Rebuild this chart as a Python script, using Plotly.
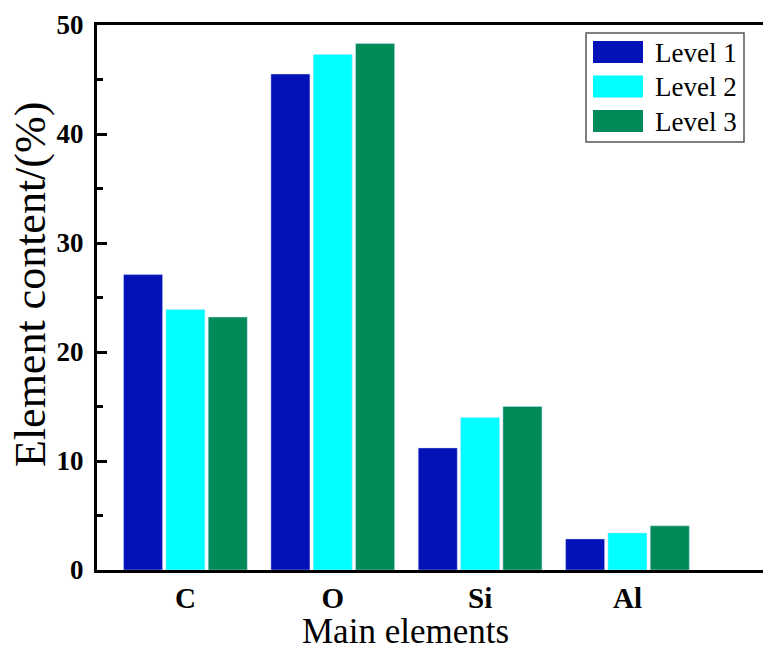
import plotly.graph_objects as go

categories = ["C", "O", "Si", "Al"]
series_names = ["Level 1", "Level 2", "Level 3"]
level1 = [27.1, 45.5, 11.2, 2.85]
level2 = [23.9, 47.3, 14.0, 3.4]
level3 = [23.2, 48.3, 15.0, 4.05]
y_ticks = [0, 10, 20, 30, 40, 50]
colors = ["#0212B6", "#00FFFF", "#008A58"]
x_title = "Main elements"
y_title = "Element content/(%)"

FONT = "Liberation Serif"
W, H = 763, 652
L, R, T, B = 97, 0, 25, 82

fig = go.Figure()
for name, vals, col in zip(series_names, [level1, level2, level3], colors):
    fig.add_trace(go.Bar(
        x=categories, y=vals, name=name,
        marker=dict(color=col, line=dict(color="rgba(200,220,255,0.6)", width=0.8)),
        showlegend=False,
    ))

pw = W - L - R
ph = H - T - B
def px_x(p):
    return (p - L) / pw
def px_y(p):
    return (H - B - p) / ph

shapes = []
annotations = []
shapes.append(dict(type="rect", xref="paper", yref="paper",
                   x0=px_x(586), x1=px_x(744), y0=px_y(142), y1=px_y(33),
                   line=dict(color="#555555", width=1.5), fillcolor="white", layer="above"))
row_centers = [52, 86.5, 121]
for name, col, yc in zip(series_names, colors, row_centers):
    shapes.append(dict(type="rect", xref="paper", yref="paper",
                       x0=px_x(593), x1=px_x(643), y0=px_y(yc + 11), y1=px_y(yc - 11),
                       line=dict(color=col, width=0), fillcolor=col, layer="above"))
    annotations.append(dict(xref="paper", yref="paper", x=px_x(653), y=px_y(yc + 1),
                            xanchor="left", yanchor="middle", text=name, showarrow=False,
                            font=dict(family=FONT, size=27, color="black")))

annotations.append(dict(xref="paper", yref="paper", x=px_x(405), y=px_y(631),
                        xanchor="center", yanchor="middle", text=x_title, showarrow=False,
                        font=dict(family=FONT, size=35, color="black")))
annotations.append(dict(xref="paper", yref="paper", x=px_x(30), y=px_y(285),
                        xanchor="center", yanchor="middle", text=y_title, showarrow=False,
                        textangle=-90, font=dict(family=FONT, size=44, color="black")))

fig.update_layout(
    width=W, height=H,
    margin=dict(l=L, r=R, t=T, b=B),
    paper_bgcolor="white", plot_bgcolor="white",
    barmode="group", bargap=0.138, bargroupgap=0.078,
    font=dict(family=FONT, color="black"),
    shapes=shapes, annotations=annotations,
    xaxis=dict(
        range=[-0.6, 3.92], automargin=False,
        showline=True, linecolor="black", linewidth=3, mirror=True,
        ticks="", showgrid=False, zeroline=False,
        tickfont=dict(family=FONT, size=29, color="black", weight="bold"),
        ticklabelstandoff=0,
    ),
    yaxis=dict(
        range=[0, 50], automargin=False,
        tickvals=y_ticks, ticktext=[str(v) for v in y_ticks],
        showline=True, linecolor="black", linewidth=3,
        ticks="inside", ticklen=10, tickwidth=2.5, tickcolor="black",
        minor=dict(dtick=5, ticks="inside", ticklen=6, tickwidth=2.5, tickcolor="black", showgrid=False),
        showgrid=False, zeroline=False,
        tickfont=dict(family=FONT, size=27, color="black", weight="bold"),
        ticklabelstandoff=5,
    ),
)

fig.write_html("out.html", config={"displayModeBar": False},
               post_script="document.body.style.margin='0';document.body.style.overflow='hidden';")
